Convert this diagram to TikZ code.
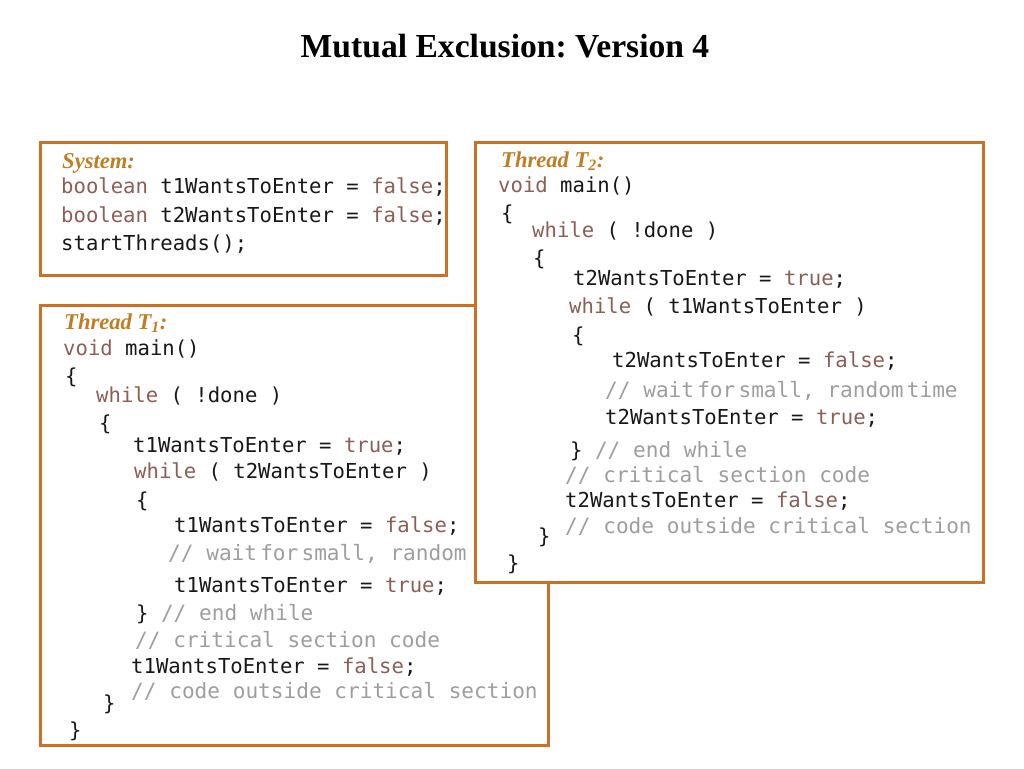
\documentclass[tikz,border=0pt]{standalone}
\usepackage{fontspec}
\setmainfont{Liberation Serif}
\newfontfamily\codefont{DejaVu Sans Mono}
\definecolor{boxcol}{RGB}{204,112,36}
\definecolor{headcol}{RGB}{192,126,36}
\definecolor{kwcol}{RGB}{140,94,86}
\definecolor{cmtcol}{RGB}{158,158,158}
\definecolor{codeblack}{RGB}{24,24,24}
\newcommand{\kwd}[1]{\textcolor{kwcol}{#1}}
\newcommand{\cmt}[1]{{\fontsize{21.1}{24}\selectfont\textcolor{cmtcol}{#1}}}
\newcommand{\tsp}{\hspace{0.15em}}
\frenchspacing
\begin{document}
\begin{tikzpicture}[x=1pt,y=-1pt,
  box/.style={draw=boxcol, line width=3pt, fill=white, anchor=north west, inner sep=0pt, outer sep=0pt},
  code/.style={anchor=base west, inner sep=0pt, font=\codefont\fontsize{20.6}{24}\selectfont, text=codeblack},
  head/.style={anchor=base west, inner sep=0pt, font=\fontsize{22.6}{26}\selectfont\bfseries\itshape, text=headcol},
  titlestyle/.style={anchor=base, inner sep=0pt, font=\fontsize{33.6}{40}\selectfont\bfseries}]
\useasboundingbox (0,0) rectangle (1024,768);
\fill[white] (0,0) rectangle (1024,768);
\node[titlestyle] (title) at (505,57) {Mutual Exclusion: Version 4};
% System box
\node[box, minimum width=406pt, minimum height=133pt] (sysbox) at (40,142) {};
\node[head] (syshead) at (62,168) {System:};
\node[code] (s1) at (61,193) {\kwd{boolean} t1WantsToEnter = \kwd{false};};
\node[code] (s2) at (61,222) {\kwd{boolean} t2WantsToEnter = \kwd{false};};
\node[code] (s3) at (61,250) {startThreads();};
% Thread T1
\node[box, minimum width=508pt, minimum height=440pt] (t1box) at (40,305) {};
\node[head] (t1head) at (64,329) {Thread T\textsubscript{1}:};
\node[code] (a1) at (63,355) {\kwd{void} main()};
\node[code] (a2) at (65,383) {\{};
\node[code] (a3) at (96,402) {\kwd{while} ( !done )};
\node[code] (a4) at (99,430) {\{};
\node[code] (a5) at (133,452) {t1WantsToEnter = \kwd{true};};
\node[code] (a6) at (134,478) {\kwd{while} ( t2WantsToEnter )};
\node[code] (a7) at (136,507) {\{};
\node[code] (a8) at (174,532) {t1WantsToEnter = \kwd{false};};
\node[code] (a9) at (168,560) {\cmt{// wait\tsp for\tsp small, random}};
\node[code] (a10) at (174,592) {t1WantsToEnter = \kwd{true};};
\node[code] (a11) at (136,620) {\} \cmt{// end while}};
\node[code] (a12) at (135,647) {\cmt{// critical section code}};
\node[code] (a13) at (131,673) {t1WantsToEnter = \kwd{false};};
\node[code] (a14) at (131,698) {\cmt{// code outside critical section}};
\node[code] (a15) at (103,710) {\}};
\node[code] (a16) at (69,737) {\}};
% Thread T2
\node[box, minimum width=508pt, minimum height=440pt] (t2box) at (475,142) {};
\node[head] (t2head) at (501,167) {Thread T\textsubscript{2}:};
\node[code] (b1) at (498,192) {\kwd{void} main()};
\node[code] (b2) at (501,220) {\{};
\node[code] (b3) at (532,237) {\kwd{while} ( !done )};
\node[code] (b4) at (533,265) {\{};
\node[code] (b5) at (573,285) {t2WantsToEnter = \kwd{true};};
\node[code] (b6) at (569,313) {\kwd{while} ( t1WantsToEnter )};
\node[code] (b7) at (572,342) {\{};
\node[code] (b8) at (612,367) {t2WantsToEnter = \kwd{false};};
\node[code] (b9) at (605,397) {\cmt{// wait\tsp for\tsp small, random\tsp time}};
\node[code] (b10) at (605,424) {t2WantsToEnter = \kwd{true};};
\node[code] (b11) at (570,457) {\} \cmt{// end while}};
\node[code] (b12) at (565,482) {\cmt{// critical section code}};
\node[code] (b13) at (565,507) {t2WantsToEnter = \kwd{false};};
\node[code] (b14) at (565,533) {\cmt{// code outside critical section}};
\node[code] (b15) at (538,543) {\}};
\node[code] (b16) at (507,570) {\}};
\end{tikzpicture}
\end{document}
